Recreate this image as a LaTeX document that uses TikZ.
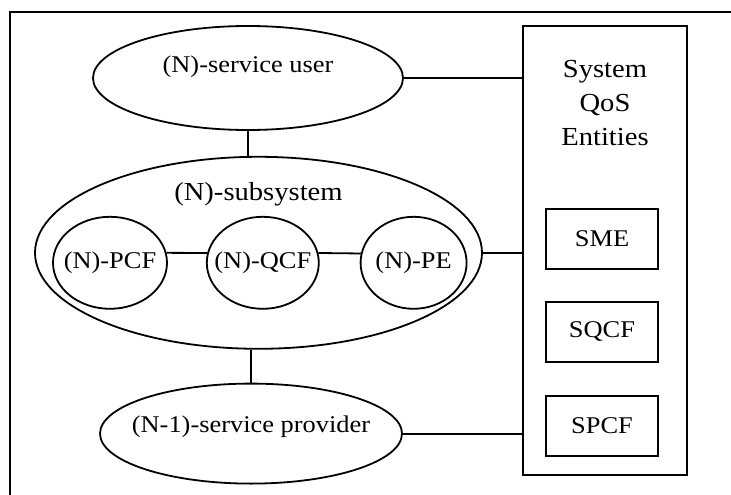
\documentclass[tikz,border=0pt]{standalone}
\usepackage{fontspec}
\setmainfont{Liberation Serif}[FakeStretch=1.1]
\usetikzlibrary{shapes,positioning}

\begin{document}
\begin{tikzpicture}[x=1pt, y=-1pt, line width=1.8pt,
    ent/.style={ellipse, draw, inner sep=0pt},
    lbl/.style={font=\fontsize{24}{28}\selectfont, inner sep=0pt},
    fbox/.style={rectangle, draw, minimum width=112pt, minimum height=60pt, font=\fontsize{24}{28}\selectfont}]
    \useasboundingbox (0,0) rectangle (731,495);
    % open frame round the figure
    \draw [line width=2.4pt] (731,12) -- (10,12) -- (10,495);

    \node (user) [ent, minimum width=310pt, minimum height=104pt, label={[lbl, name=usertxt, yshift=11pt]center:(N)-service user}] at (248,78) {};
    \node (sub) [ent, below=25pt of user, xshift=10.5pt, minimum width=447pt, minimum height=192pt] {};
    \node (subname) [below=22pt of sub.north, font=\fontsize{26}{30}\selectfont] {(N)-subsystem};
    \node (prov) [ent, below=33pt of sub, xshift=-7.5pt, minimum width=302pt, minimum height=100pt, label={[lbl, name=provtxt, yshift=7pt]center:(N-1)-service provider}] {};

    \node (pcf) [ent, right=18pt of sub.west, yshift=-10pt, minimum width=114pt, minimum height=92pt, label={[lbl, name=pcftxt]center:(N)-PCF}] {};
    \node (qcf) [ent, right=38pt of pcf, minimum width=112pt, minimum height=92pt, label={[lbl, name=qcftxt]center:(N)-QCF}] {};
    \node (pe) [ent, right=40pt of qcf, minimum width=106pt, minimum height=92pt, label={[lbl, name=petxt]center:(N)-PE}] {};

    \node (qosbox) [rectangle, draw, minimum width=164pt, minimum height=449pt] at (605,250.5) {};
    \node (qostitle) [below=31pt of qosbox.north, align=center, font=\fontsize{26}{34}\selectfont] {System\\QoS\\Entities};
    \node (sme) [fbox] at (602,239) {SME};
    \node (sqcf) [fbox, below=31pt of sme] {SQCF};
    \node (spcf) [fbox, below=32pt of sqcf] {SPCF};

    \draw (user.south) -- (user.south |- sub.north);
    \draw (prov.north) -- (prov.north |- sub.south);
    \draw (pcf.10) -- (qcf.170);
    \draw (qcf.10) -- (pe.170);
    \draw (user.east) -- (user.east -| qosbox.west);
    \draw (sub.east) -- (sub.east -| qosbox.west);
    \draw (prov.east) -- (prov.east -| qosbox.west);
\end{tikzpicture}
\end{document}
